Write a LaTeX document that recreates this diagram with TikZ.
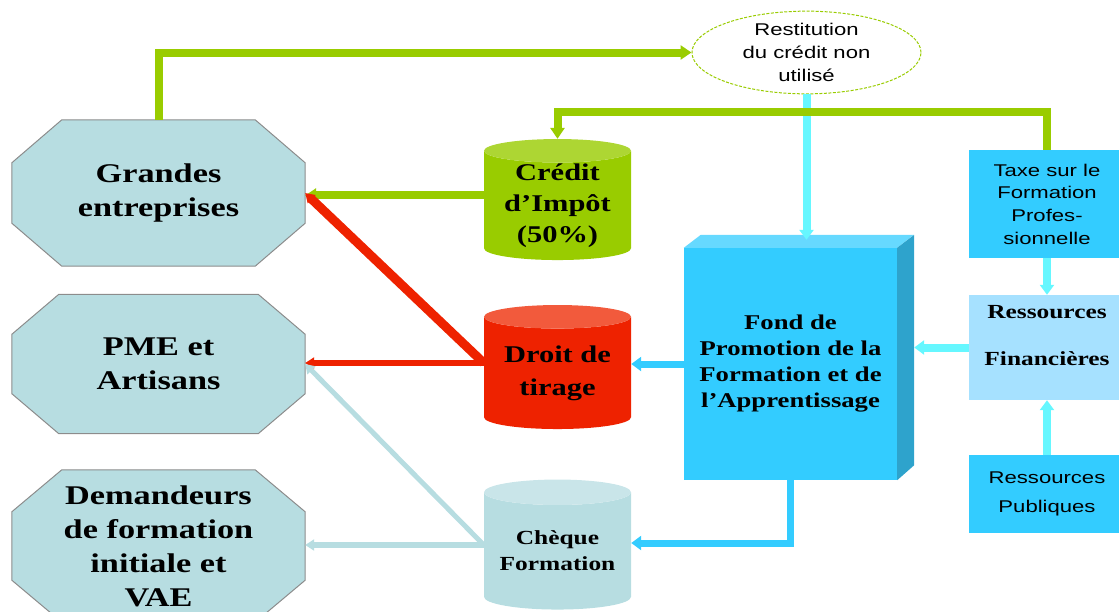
\documentclass[tikz,border=0pt]{standalone}
\usepackage{fontspec}
\setmainfont{Liberation Serif}
\setsansfont{Liberation Sans}
\newfontfamily\wideserif[FakeStretch=1.27]{Liberation Serif}
\newfontfamily\widesans[FakeStretch=1.3]{Liberation Sans}
\usepackage{xcolor}
\usepackage{tikz}
\usetikzlibrary{shapes,shapes.geometric,arrows.meta,backgrounds}

\definecolor{octFill}{HTML}{B7DDE1}
\definecolor{octLine}{HTML}{8C8C8C}
\definecolor{greenLine}{HTML}{99CC00}
\definecolor{greenTop}{HTML}{ADD633}
\definecolor{redLine}{HTML}{EE2200}
\definecolor{redTop}{HTML}{F25A3C}
\definecolor{chqLine}{HTML}{B7DDE1}
\definecolor{chqTop}{HTML}{C9E5E9}
\definecolor{blueLine}{HTML}{33CCFF}
\definecolor{cyanLine}{HTML}{66F7FF}
\definecolor{fondTop}{HTML}{66D9FF}
\definecolor{fondSide}{HTML}{2EA3CC}
\definecolor{ressFin}{HTML}{A6E1FF}

\begin{document}
\begin{tikzpicture}[x=1pt, y=-1pt,
  oct/.style={rectangle, inner sep=0, minimum width=293pt, align=center, font=\wideserif\bfseries\fontsize{27}{34}\selectfont},
  octShape/.style={fill=octFill, draw=octLine, line width=1pt},
  cyl/.style={cylinder, shape border rotate=90, aspect=0.22, cylinder uses custom fill, inner sep=0, minimum width=147pt, align=center},
  box/.style={rectangle, fill=blueLine, inner sep=0, minimum width=156pt, align=center, font=\widesans\fontsize{17}{22.7}\selectfont},
  gArrow/.style={-{Triangle[width=14pt,length=11pt]}, draw=greenLine, line width=8pt},
  rArrow/.style={-{Triangle[width=11pt,length=9pt]}, draw=redLine, line width=6pt},
  cArrow/.style={-{Triangle[width=11pt,length=9pt]}, draw=chqLine, line width=6pt},
  bArrow/.style={-{Triangle[width=14pt,length=10pt]}, draw=blueLine, line width=7pt},
  lArrow/.style={-{Triangle[width=14pt,length=10pt]}, draw=cyanLine, line width=8pt}]

  \useasboundingbox (0,0) rectangle (1119,611);

  \node[oct, minimum height=146pt] (octGrandes)    at (158.5,193) {Grandes\\entreprises};
  \node[oct, minimum height=139pt] (octPme)        at (158.5,364) {PME et\\Artisans};
  \node[oct, minimum height=152pt] (octDemandeurs) at (158.5,546) {Demandeurs\\de formation\\initiale et\\VAE};
  \begin{pgfonlayer}{background}
    \foreach \oct/\cx/\cy in {octGrandes/50/43, octPme/47/40, octDemandeurs/50/42}
      \filldraw[octShape] ([xshift=\cx pt]\oct.north west) -- ([xshift=-\cx pt]\oct.north east) -- ([yshift=-\cy pt]\oct.north east) -- ([yshift=\cy pt]\oct.south east) -- ([xshift=-\cx pt]\oct.south east) -- ([xshift=\cx pt]\oct.south west) -- ([yshift=\cy pt]\oct.south west) -- ([yshift=-\cy pt]\oct.north west) -- cycle;
  \end{pgfonlayer}

  \node[cyl, minimum height=121pt, cylinder body fill=greenLine, cylinder end fill=greenTop, font=\wideserif\bfseries\fontsize{24}{31}\selectfont] (cylCredit) at (557.5,205.5) {Crédit\\d’Impôt\\(50\%)};
  \node[cyl, minimum height=124pt, cylinder body fill=redLine, cylinder end fill=redTop, font=\wideserif\bfseries\fontsize{24}{33}\selectfont] (cylDroit) at (557.5,373) {Droit de\\tirage};
  \node[cyl, minimum height=130pt, cylinder body fill=chqLine, cylinder end fill=chqTop, font=\wideserif\bfseries\fontsize{20}{26}\selectfont] (cylCheque) at (557.5,551) {Chèque\\Formation};

  \node[rectangle, fill=blueLine, inner sep=0, minimum width=213pt, minimum height=232pt, align=center, font=\wideserif\bfseries\fontsize{21}{26}\selectfont] (boxFond) at (790.5,364) {Fond de\\Promotion de la\\Formation et de\\l’Apprentissage};
  \fill[fondTop] (boxFond.north west) -- ++(17,-13) -- ++(213,0) -- (boxFond.north east) -- cycle;
  \fill[fondSide] (boxFond.north east) -- ++(17,-13) -- ([shift={(17,-15)}]boxFond.south east) -- (boxFond.south east) -- cycle;
  \coordinate (fondTopFace) at ([yshift=8pt]boxFond.north);
  \coordinate (fondSideFace) at ([xshift=17pt]boxFond.east);

  \node[ellipse, draw=greenLine, dash pattern=on 3pt off 1.5pt, line width=1pt, fill=white, inner sep=0, minimum width=229pt, minimum height=77pt, align=center, font=\widesans\fontsize{17}{23}\selectfont] (ellRestitution) at (806.5,52.5) {Restitution\\du crédit non\\utilisé};

  \node[box, minimum height=108pt] (boxTaxe)    at (1047,204)   {Taxe sur le\\Formation\\Profes-\\sionnelle};
  \node[box, minimum height=105pt, fill=ressFin, text depth=25pt, font=\wideserif\bfseries\fontsize{20}{47}\selectfont] (boxRessFin) at (1047,347.5) {Ressources\\Financières};
  \node[box, minimum height=78pt, font=\widesans\fontsize{17}{29}\selectfont] (boxRessPub) at (1047,494) {Ressources\\Publiques};

  \draw [lArrow] (ellRestitution.south) -- (ellRestitution.south |- fondTopFace);
  \draw [gArrow] (octGrandes.north) |- (ellRestitution.west);
  \draw [gArrow] (boxTaxe.north) -- ++(0,-38) -| (cylCredit.north);
  \draw [gArrow] ([yshift=10pt]cylCredit.west) -- ([yshift=10pt]cylCredit.west -| octGrandes.east);

  \draw [rArrow, line width=9pt] ([yshift=10pt]cylDroit.west) -- (octGrandes.east);
  \draw [rArrow] ([yshift=10pt]cylDroit.west) -- ([yshift=10pt]cylDroit.west -| octPme.east);
  \draw [cArrow, line width=5pt] ([yshift=6pt]cylCheque.west) -- (octPme.east);
  \draw [cArrow] ([yshift=6pt]cylCheque.west) -- ([yshift=6pt]cylCheque.west -| octDemandeurs.east);

  \draw [bArrow] (boxFond.west) -- (boxFond.west -| cylDroit.east);
  \draw [bArrow] (boxFond.south) |- ([yshift=8pt]cylCheque.east);

  \draw [lArrow] (boxRessFin.west) -- (boxRessFin.west -| fondSideFace);
  \draw [lArrow] (boxTaxe.south) -- (boxRessFin.north);
  \draw [lArrow] (boxRessPub.north) -- (boxRessFin.south);
\end{tikzpicture}
\end{document}
